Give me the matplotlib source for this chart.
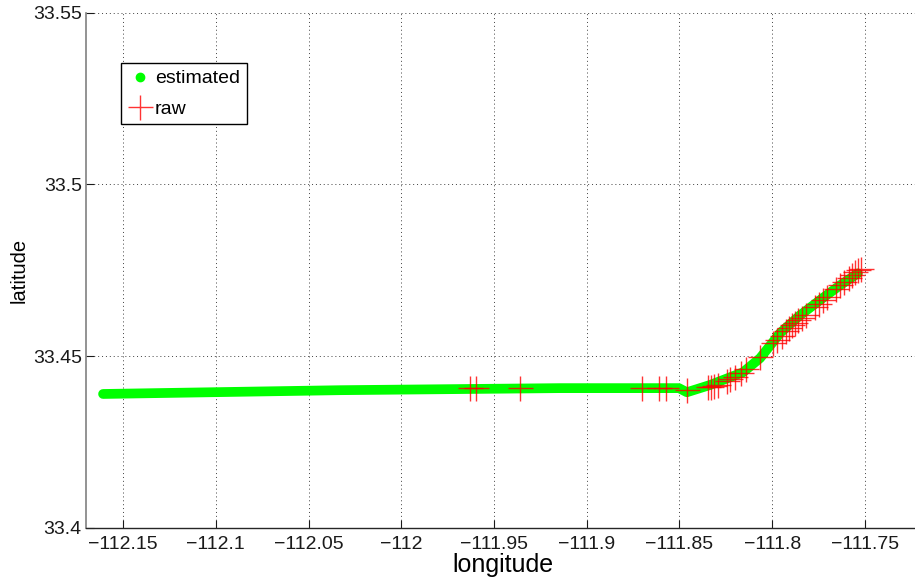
import matplotlib
matplotlib.use("Agg")
import matplotlib.pyplot as plt
from matplotlib.lines import Line2D

plt.rcParams['font.family'] = ['Liberation Sans', 'DejaVu Sans']

# filtered track (estimated positions)
est_lon = [-112.1608, -112.0330, -111.9144, -111.8503, -111.8460, -111.8336,
           -111.8158, -111.8066, -111.7958, -111.7850, -111.7743, -111.7635,
           -111.7538]
est_lat = [33.4390, 33.4401, 33.4407, 33.4407, 33.4395, 33.4416,
           33.4453, 33.4494, 33.4567, 33.4619, 33.4663, 33.4706,
           33.4741]

# raw gps fixes
raw_lon = [-111.9629, -111.9597, -111.9360, -111.8702, -111.8610, -111.8573,
           -111.8460, -111.8346, -111.8330, -111.8314, -111.8292, -111.8244,
           -111.8228, -111.8201, -111.8168, -111.8142, -111.8066, -111.7996,
           -111.7974, -111.7947, -111.7926, -111.7910, -111.7894, -111.7877,
           -111.7861, -111.7840, -111.7818, -111.7770, -111.7748, -111.7726,
           -111.7705, -111.7656, -111.7635, -111.7613, -111.7587, -111.7570,
           -111.7554, -111.7538, -111.7522]
raw_lat = [33.4407, 33.4407, 33.4407, 33.4407, 33.4407, 33.4407,
           33.4401, 33.4410, 33.4410, 33.4413, 33.4416, 33.4427,
           33.4433, 33.4439, 33.4451, 33.4462, 33.4497, 33.4538,
           33.4547, 33.4558, 33.4573, 33.4581, 33.4590, 33.4596,
           33.4605, 33.4610, 33.4619, 33.4642, 33.4651, 33.4663,
           33.4672, 33.4695, 33.4706, 33.4715, 33.4727, 33.4735,
           33.4744, 33.4750, 33.4753]

x_ticks = [-112.15, -112.1, -112.05, -112, -111.95, -111.9, -111.85, -111.8, -111.75]
x_ticklabels = ['\u2212112.15', '\u2212112.1', '\u2212112.05', '\u2212112', '\u2212111.95',
                '\u2212111.9', '\u2212111.85', '\u2212111.8', '\u2212111.75']
y_ticks = [33.4, 33.45, 33.5, 33.55]
y_ticklabels = ['33.4', '33.45', '33.5', '33.55']

GREEN = '#00ff00'
RED = '#ff0000'

fig = plt.figure(figsize=(9.15, 5.81), dpi=100)
ax = fig.add_axes([86 / 915, 53 / 581, 834.6 / 915, 515.5 / 581])

ax.plot(est_lon, est_lat, '-', color=GREEN, lw=7, solid_capstyle='round',
        solid_joinstyle='round', zorder=2)
ax.plot(raw_lon, raw_lat, '+', color=RED, ms=18, mew=1.0, alpha=0.8, zorder=3)

ax.set_xlim(-112.17, -111.72)
ax.set_ylim(33.4, 33.55)
ax.set_xticks(x_ticks)
ax.set_xticklabels(x_ticklabels)
ax.set_yticks(y_ticks)
ax.set_yticklabels(y_ticklabels)

ax.grid(True, color='0.25', lw=0.7, linestyle=(0, (1, 3)))
ax.set_axisbelow(True)

for side in ('top', 'right'):
    ax.spines[side].set_visible(False)
ax.spines['left'].set_color('0.5')
ax.spines['left'].set_linewidth(1.2)
ax.spines['bottom'].set_color('0.15')
ax.spines['bottom'].set_linewidth(1.0)

ax.tick_params(direction='in', length=5.5, width=0.8, labelsize=14,
               colors='0.1')
ax.tick_params(axis='x', pad=6)
ax.tick_params(axis='y', pad=3)

ax.set_xlabel('longitude', fontsize=18, labelpad=0)
ax.set_ylabel('latitude', fontsize=14.5, labelpad=3)

handles = [
    Line2D([], [], ls='none', marker='o', ms=6, color=GREEN, mec=GREEN),
    Line2D([], [], ls='none', marker='+', ms=18, mew=1.0, color=RED, alpha=0.8),
]
leg = fig.legend(handles, ['estimated', 'raw'], loc='upper left',
                 bbox_to_anchor=(121 / 915, 1 - 63 / 581),
                 bbox_transform=fig.transFigure, fontsize=14,
                 frameon=True, fancybox=False, framealpha=1,
                 borderaxespad=0, borderpad=0.35, handlelength=1.3,
                 handletextpad=0.1, labelspacing=0.65)
leg.get_frame().set_edgecolor('black')
leg.get_frame().set_linewidth(1.0)

fig.savefig('out.png', dpi=100)
